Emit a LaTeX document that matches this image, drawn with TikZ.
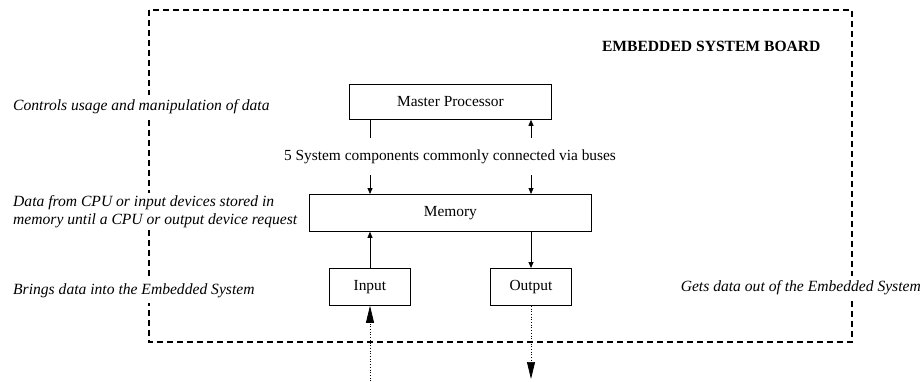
\documentclass[tikz,border=0pt]{standalone}
\usepackage{fontspec}
\setmainfont{Liberation Serif}
\usetikzlibrary{arrows.meta}
\begin{document}
\begin{tikzpicture}[x=1pt,y=-1pt,
  every node/.style={font=\fontsize{15.4}{17}\selectfont},
  blockbox/.style={draw,line width=0.8pt,inner sep=0pt,anchor=north west},
  lbl/.style={font=\fontsize{15.6}{17.5}\selectfont\itshape,fill=white,inner sep=5pt,align=left},
  bus/.style={line width=0.8pt,-{Triangle[length=6pt,width=5pt]}},
  ext/.style={line width=0.7pt,dotted,-{Triangle[length=17pt,width=8pt]}},
  board/.style={line width=1.1pt,dash pattern=on 6pt off 4pt}]
\useasboundingbox (0,0) rectangle (924,381);
% board
\draw[board] (149,10) rectangle (852,342);
\node[font=\fontsize{15.6}{18}\selectfont\bfseries,anchor=east] (title) at (824,46) {EMBEDDED SYSTEM BOARD};
% blocks
\node[blockbox,minimum width=202pt,minimum height=35pt] (mp) at (349,84) {};
\node at (mp.center) {Master Processor};
\node[blockbox,minimum width=282pt,minimum height=37pt] (mem) at (309,194) {};
\node at (mem.center) {Memory};
\node[blockbox,minimum width=81pt,minimum height=37pt] (in) at (329,268) {};
\node at (in.center) {Input};
\node[blockbox,minimum width=81pt,minimum height=37pt] (out) at (490,268) {};
\node at (out.center) {Output};
\node (bus) at (450,157) {5 System components commonly connected via buses};
% connectors
\coordinate (a1) at (370,138);
\coordinate (a2) at (531,138);
\coordinate (b1) at (370,175);
\coordinate (b2) at (531,175);
\draw[line width=0.8pt] (mp.south -| a1) -- (a1);
\draw[bus] (a2) -- (mp.south -| a2);
\draw[bus] (b1) -- (mem.north -| b1);
\draw[bus] (b2) -- (mem.north -| b2);
\draw[bus] (in.north -| b1) -- (mem.south -| b1);
\draw[bus] (mem.south -| b2) -- (out.north -| b2);
\coordinate (ie) at (370,381);
\coordinate (oe) at (531,379);
\draw[ext] (ie) -- (in.south -| ie);
\draw[ext] (out.south -| oe) -- (oe);
% labels
\node[lbl,anchor=west] (l1) at (8,107) {Controls usage and manipulation of data};
\node[lbl,anchor=west,inner ysep=3pt] (l2) at (8,211.5) {Data from CPU or input devices stored in\\memory until a CPU or output device request};
\node[lbl,anchor=west] (l3) at (8,291) {Brings data into the Embedded System};
\node[lbl,anchor=east] (l4) at (926,288) {Gets data out of the Embedded System};
\end{tikzpicture}
\end{document}
